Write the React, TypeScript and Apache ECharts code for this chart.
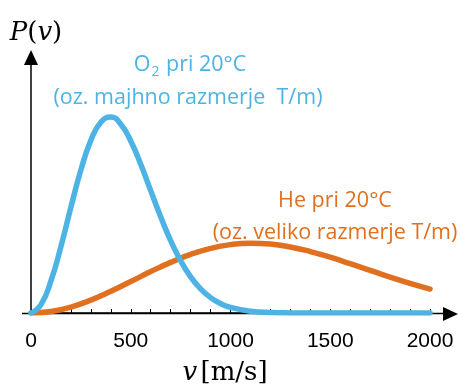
import React, { useEffect, useRef } from "react";
import * as echarts from "echarts";

// speeds (m/s)
const speedsO2 = [0, 50, 100, 150, 200, 250, 300, 350, 400, 450, 500, 550, 600, 650, 700, 750, 800, 850, 900, 950, 1000, 1100, 1200, 1300, 1400, 1600, 1800, 2000];
// P(v) for O2 at 20°C (arbitrary units)
const pO2 = [0, 0.09, 0.344, 0.713, 1.134, 1.533, 1.851, 2.046, 2.101, 2.025, 1.844, 1.594, 1.312, 1.032, 0.776, 0.56, 0.388, 0.258, 0.165, 0.102, 0.06, 0.019, 0.005, 0.001, 0, 0, 0, 0];

const speedsHe = [0, 100, 200, 300, 400, 500, 600, 700, 800, 900, 1000, 1100, 1200, 1300, 1400, 1500, 1600, 1700, 1800, 1900, 2000];
// P(v) for He at 20°C
const pHe = [0, 0.016, 0.064, 0.138, 0.232, 0.337, 0.444, 0.543, 0.628, 0.693, 0.733, 0.748, 0.739, 0.708, 0.659, 0.598, 0.529, 0.457, 0.385, 0.318, 0.257];

const xTicks = [0, 500, 1000, 1500, 2000];

const BLUE = "#4DB3E4";
const ORANGE = "#E0701F";

export default function App() {
  const ref = useRef<HTMLDivElement>(null);
  useEffect(() => {
    if (!ref.current) return;
    const chart = echarts.init(ref.current, null, { renderer: "svg" });
    const textFont = "'Open Sans', Lato, sans-serif";
    const fs = 21.5;
    const serif = "'DejaVu Serif', serif";
    chart.setOption({
      animation: false,
      grid: { left: 31, right: 29, top: 50, bottom: 77 },
      xAxis: {
        type: "value",
        min: xTicks[0],
        max: xTicks[xTicks.length - 1],
        interval: 500,
        axisLine: { show: true, lineStyle: { color: "#000", width: 1.5 } },
        axisTick: { show: true, inside: true, length: 4, lineStyle: { color: "#000", width: 1 } },
        minorTick: { show: true, splitNumber: 5, length: 4, lineStyle: { color: "#000", width: 1 } },
        splitLine: { show: false },
        axisLabel: {
          color: "#000",
          fontSize: 21,
          fontFamily: "'Liberation Sans', Arial, sans-serif",
          margin: 16,
          formatter: (v: number) => String(v),
        },
      },
      yAxis: {
        type: "value",
        min: 0,
        max: 2.82,
        axisLine: { show: false },
        axisTick: { show: false },
        axisLabel: { show: false },
        splitLine: { show: false },
      },
      series: [
        {
          type: "line",
          data: speedsHe.map((v, i) => [v, pHe[i]]),
          smooth: true,
          symbol: "none",
          lineStyle: { color: ORANGE, width: 5.5, cap: "round" },
          z: 3,
        },
        {
          type: "line",
          data: speedsO2.map((v, i) => [v, pO2[i]]),
          smooth: true,
          symbol: "none",
          lineStyle: { color: BLUE, width: 5.5, cap: "round" },
          z: 4,
        },
      ],
      graphic: [
        // y axis line + arrow
        { type: "line", shape: { x1: 31, y1: 313.5, x2: 31, y2: 60 }, style: { stroke: "#000", lineWidth: 1.5 }, z: 1 },
        { type: "polygon", shape: { points: [[31, 50], [24, 65], [38, 65]] }, style: { fill: "#000" } },
        // x axis extensions + arrow
        { type: "line", shape: { x1: 22, y1: 313.5, x2: 446, y2: 313.5 }, style: { stroke: "#000", lineWidth: 1.5 }, z: 1 },
        { type: "polygon", shape: { points: [[458, 314], [443, 307], [443, 321]] }, style: { fill: "#000" } },
        // P(v)
        {
          type: "text",
          x: 36,
          y: 31,
          style: {
            text: "{i|P}{r|(}{i|v}{r|)}",
            align: "center",
            verticalAlign: "middle",
            rich: {
              i: { fontFamily: serif, fontStyle: "italic", fontSize: 26, fill: "#000" },
              r: { fontFamily: serif, fontSize: 26, fill: "#000" },
            },
          },
        },
        // v [m/s]
        {
          type: "text",
          x: 225,
          y: 371,
          style: {
            text: "{i|v} {r|[m/s]}",
            align: "center",
            verticalAlign: "middle",
            rich: {
              i: { fontFamily: serif, fontStyle: "italic", fontSize: 26, fill: "#000" },
              r: { fontFamily: serif, fontSize: 26, fill: "#000" },
            },
          },
        },
        // O2 labels
        {
          type: "text",
          x: 190,
          y: 62,
          style: {
            text: "{a|O}{s|2}{a| pri 20°C}",
            align: "center",
            verticalAlign: "middle",
            rich: {
              a: { fontFamily: textFont, fontSize: fs, fill: BLUE },
              s: { fontFamily: textFont, fontSize: 14, fill: BLUE, padding: [16, 1, 0, 1] },
            },
          },
        },
        {
          type: "text",
          x: 188,
          y: 95,
          style: {
            text: "(oz. majhno razmerje  T/m)",
            align: "center",
            verticalAlign: "middle",
            fontFamily: textFont,
            fontSize: fs,
            fill: BLUE,
          },
        },
        // He labels
        {
          type: "text",
          x: 335,
          y: 198,
          style: {
            text: "He pri 20°C",
            align: "center",
            verticalAlign: "middle",
            fontFamily: textFont,
            fontSize: fs,
            fill: ORANGE,
          },
        },
        {
          type: "text",
          x: 335,
          y: 230,
          style: {
            text: "(oz. veliko razmerje T/m)",
            align: "center",
            verticalAlign: "middle",
            fontFamily: textFont,
            fontSize: fs,
            fill: ORANGE,
          },
        },
      ],
    });
    return () => chart.dispose();
  }, []);
  return <div ref={ref} style={{ position: "fixed", left: 0, top: 0, width: 459, height: 390 }} />;
}
